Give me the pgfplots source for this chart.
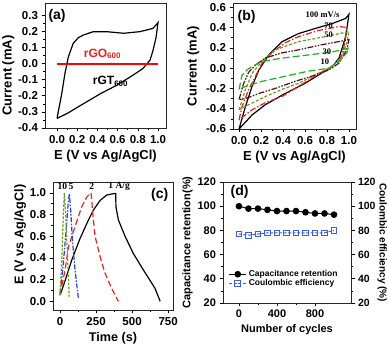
\documentclass[border=0pt]{standalone}
\usepackage{fontspec}
\setmainfont{Liberation Sans}
\newfontfamily\tnr{Liberation Serif}
\usepackage{pgfplots}
\pgfplotsset{compat=1.18}
\definecolor{cvred}{HTML}{F01E1E}
\definecolor{cvolive}{HTML}{6E9A2A}
\definecolor{cvmaroon}{HTML}{5A0E0E}
\definecolor{cvgreen}{HTML}{22B022}
\definecolor{gcdblue}{HTML}{1F3FF0}
\definecolor{ceblue}{HTML}{3A5FE0}

\pgfplotsset{
  panel/.style={
    scale only axis, anchor=south west,
    tick align=outside, xtick pos=bottom, ytick pos=left,
    minor tick num=1,
    major tick length=3.5pt, minor tick length=2pt,
    tick style={black, line width=0.6pt},
    axis line style={black!85, line width=0.8pt},
    ticklabel style={font=\bfseries\fontsize{11.5}{12}\selectfont},
    label style={font=\bfseries\fontsize{13}{14}\selectfont},
    /pgf/number format/assume math mode=true,
    clip=false,
  },
  onedec/.style={/pgf/number format/.cd, fixed, fixed zerofill, precision=1},
}

\begin{document}
\begin{tikzpicture}
\useasboundingbox (0pt,0pt) rectangle (387pt,344pt);

% ---------- (a) ----------
\begin{axis}[panel, at={(45pt,216pt)}, width=121pt, height=125pt,
  xmin=-0.119, xmax=1.079, ymin=-0.4, ymax=0.376,
  xtick={0,0.2,...,1.0}, ytick={-0.4,-0.3,...,0.31},
  xticklabel style={onedec}, yticklabel style={onedec},
  xlabel={E (V vs Ag/AgCl)}, ylabel={Current (mA)},
  ylabel style={at={(ticklabel cs:0.42)}}, ylabel shift=-3pt,
]
\addplot[black, line width=1.2pt] coordinates {
 (0,-0.34) (0.046,-0.19) (0.079,-0.06) (0.112,0.041) (0.16,0.125) (0.21,0.16)
 (0.26,0.177) (0.36,0.198) (0.49,0.198) (0.66,0.188) (0.82,0.198) (0.95,0.218) (1.0,0.254)
 (0.98,0.16) (0.95,0.08) (0.92,0.02) (0.85,-0.031) (0.75,-0.073) (0.59,-0.135)
 (0.43,-0.187) (0.26,-0.25) (0.1,-0.31) (0,-0.34)};
\addplot[color=red, solid, line width=2pt] coordinates {(0,0) (0.5,0) (1,0)};
\node[font=\bfseries\fontsize{12}{12}\selectfont, text=cvred] at (axis cs:0.45,0.06) {rGO$_{\mathbf{600}}$};
\node[font=\bfseries\fontsize{12}{12}\selectfont] at (axis cs:0.53,-0.11) {rGT$_{\mathbf{600}}$};
\node[font=\bfseries\fontsize{14}{14}\selectfont] at (rel axis cs:0.1,0.9) {(a)};
\end{axis}

% ---------- (b) ----------
\begin{axis}[panel, at={(233pt,215pt)}, width=123pt, height=126pt,
  xmin=-0.055, xmax=1.064, ymin=-0.6, ymax=0.642,
  xtick={0,0.2,...,1.0}, ytick={-0.6,-0.4,...,0.61},
  xticklabel style={onedec}, yticklabel style={onedec},
  xlabel={E (V vs Ag/AgCl)}, ylabel={Current (mA)},
]
% 100 mV/s
\addplot[black, line width=1.2pt] coordinates {
 (0,-0.6) (0.058,-0.38) (0.118,-0.18) (0.18,-0.02) (0.27,0.13) (0.39,0.26) (0.54,0.34)
 (0.69,0.39) (0.85,0.44) (0.97,0.49) (1.0,0.53)
 (0.97,0.31) (0.91,0.1) (0.85,0.017) (0.75,-0.05) (0.6,-0.15) (0.42,-0.25)
 (0.24,-0.36) (0.12,-0.46) (0,-0.6)};
% 70 mV/s
\addplot[cvred, line width=1.2pt, dash pattern=on 6pt off 2pt on 1.5pt off 2pt] coordinates {
 (0,-0.51) (0.027,-0.38) (0.088,-0.21) (0.15,-0.08) (0.21,0.05) (0.3,0.15) (0.42,0.25)
 (0.54,0.31) (0.72,0.37) (0.91,0.41) (0.98,0.40)
 (0.95,0.18) (0.91,0.07) (0.82,0.0) (0.69,-0.08) (0.54,-0.18) (0.39,-0.28)
 (0.24,-0.34) (0.12,-0.41) (0,-0.51)};
% 50 mV/s
\addplot[cvolive, line width=1.2pt, dash pattern=on 3pt off 1.8pt] coordinates {
 (0,-0.41) (0.058,-0.21) (0.12,-0.05) (0.18,0.03) (0.24,0.1) (0.33,0.18) (0.54,0.26)
 (0.78,0.31) (1.0,0.36)
 (0.98,0.25) (0.94,0.12) (0.85,0.017) (0.69,-0.07) (0.54,-0.15) (0.39,-0.21)
 (0.24,-0.28) (0.09,-0.36) (0,-0.41)};
% 30 mV/s
\addplot[cvmaroon, line width=1.2pt, dash pattern=on 6pt off 1.5pt on 1.5pt off 1.5pt on 1.5pt off 1.5pt] coordinates {
 (0,-0.31) (0.042,-0.15) (0.088,-0.04) (0.15,0.03) (0.24,0.1) (0.39,0.15) (0.54,0.18)
 (0.75,0.23) (1.0,0.28)
 (0.98,0.18) (0.91,0.05) (0.82,-0.017) (0.66,-0.08) (0.51,-0.13) (0.33,-0.2)
 (0.18,-0.25) (0.06,-0.3) (0,-0.31)};
% 10 mV/s
\addplot[cvgreen, line width=1.2pt, dash pattern=on 7pt off 3pt] coordinates {
 (0,-0.21) (0.027,-0.07) (0.073,-0.017) (0.12,0.017) (0.21,0.065) (0.39,0.098)
 (0.63,0.13) (0.85,0.16) (0.97,0.19) (1.0,0.2)
 (0.98,0.15) (0.91,0.065) (0.82,0.0) (0.63,-0.03) (0.42,-0.08) (0.21,-0.13)
 (0.06,-0.18) (0,-0.21)};
\begin{scope}[font=\tnr\bfseries\fontsize{8.5}{9}\selectfont]
\node at (axis cs:0.76,0.525) {100 mV/s};
\node at (axis cs:0.815,0.416) {70};
\node at (axis cs:0.815,0.328) {50};
\node at (axis cs:0.80,0.163) {30};
\node at (axis cs:0.78,0.065) {10};
\end{scope}
\node[font=\bfseries\fontsize{14}{14}\selectfont] at (rel axis cs:0.11,0.89) {(b)};
\end{axis}

% ---------- (c) ----------
\begin{axis}[panel, at={(53pt,34pt)}, width=120pt, height=128pt,
  xmin=-49, xmax=784, ymin=-0.08, ymax=1.1,
  xtick={0,250,500,750}, ytick={0,0.2,...,1.01},
  yticklabel style={onedec},
  label style={font=\bfseries\fontsize{12.6}{13}\selectfont},
  xlabel={Time (s)}, ylabel={E (V vs Ag/AgCl)},
  ylabel style={at={(ticklabel cs:0.59)}}, ylabel shift=-3pt,
]
% 1 A/g
\addplot[black, line width=1.2pt] coordinates {
 (0,0.056) (35,0.19) (81,0.38) (139,0.58) (197,0.75) (231,0.84) (278,0.93)
 (324,0.98) (382,0.995) (386,0.995)
 (388,0.87) (405,0.75) (451,0.60) (509,0.44) (578,0.29) (659,0.12) (695,0.0)};
% 2 A/g
\addplot[cvred, line width=1.2pt, dash pattern=on 6pt off 3pt] coordinates {
 (0,0.06) (35,0.29) (58,0.50) (104,0.69) (150,0.87) (185,0.96) (215,1.0)
 (220,0.93) (227,0.81) (243,0.60) (278,0.41) (312,0.26) (358,0.12) (405,0.0)};
% 5 A/g
\addplot[gcdblue, line width=1.2pt, dash pattern=on 5pt off 1.5pt on 1.5pt off 1.5pt] coordinates {
 (0,0.07) (23,0.35) (46,0.72) (58,0.93) (65,0.99)
 (74,0.84) (86,0.56) (104,0.29) (127,0.03)};
% 10 A/g
\addplot[cvolive, line width=1.2pt, dash pattern=on 2.5pt off 1.5pt] coordinates {
 (0,0.06) (12,0.38) (23,0.81) (30,1.0)
 (39,0.81) (51,0.44) (63,0.04)};
\begin{scope}[font=\tnr\bfseries\fontsize{9.5}{10}\selectfont]
\node at (axis cs:16,1.06) {10};
\node at (axis cs:76,1.06) {5};
\node at (axis cs:220,1.06) {2};
\node at (axis cs:410,1.06) {1 A/g};
\end{scope}
\node[font=\bfseries\fontsize{14}{14}\selectfont] at (rel axis cs:0.89,0.9) {(c)};
\end{axis}

% ---------- (d) ----------
\begin{axis}[panel, at={(223pt,41pt)}, width=128pt, height=121pt,
  xmin=-168, xmax=1179, ymin=20, ymax=120,
  xtick={0,400,800}, ytick={20,40,...,120},
  ticklabel style={font=\bfseries\fontsize{11}{12}\selectfont},
  label style={font=\bfseries\fontsize{11}{12}\selectfont},
  xlabel={Number of cycles}, ylabel={Capacitance retention(\%)},
  ylabel shift=-2pt,
  legend style={at={(axis cs:-110,40)}, anchor=west, draw=none, fill=none,
    font=\bfseries\fontsize{8.5}{9}\selectfont, row sep=-2.5pt, inner sep=0pt},
  legend cell align=left,
]
\addplot[black, line width=1pt, mark=*, mark size=2.8pt] coordinates {
 (0,100) (100,98) (200,98) (300,97) (400,96) (500,96) (600,96) (700,95) (800,94) (900,94) (1000,93)};
\addlegendentry{Capacitance retention}
\addplot[ceblue, line width=1pt, dash pattern=on 3pt off 1.5pt, mark=square, mark size=2.8pt,
  mark options={solid, fill=white}] coordinates {
 (0,77) (100,76) (200,77) (300,78) (400,78) (500,78) (600,78) (700,78) (800,78) (900,78) (1000,80)};
\addlegendentry{Coulombic efficiency}
\node[font=\bfseries\fontsize{14}{14}\selectfont] at (rel axis cs:0.13,0.92) {(d)};
\end{axis}
\begin{axis}[panel, at={(223pt,41pt)}, width=128pt, height=121pt,
  xmin=-168, xmax=1179, ymin=20, ymax=120,
  xtick=\empty, minor x tick num=0, ytick={20,40,...,120},
  ytick pos=right, yticklabel pos=right,
  ticklabel style={font=\bfseries\fontsize{10.5}{11}\selectfont},
  label style={font=\bfseries\fontsize{10}{11}\selectfont},
  ylabel={Coulombic efficiency (\%)},
  ylabel style={rotate=180}, ylabel shift=-5pt,
]
\addplot[draw=none] coordinates {(0,50)};
\end{axis}
\end{tikzpicture}
\end{document}
